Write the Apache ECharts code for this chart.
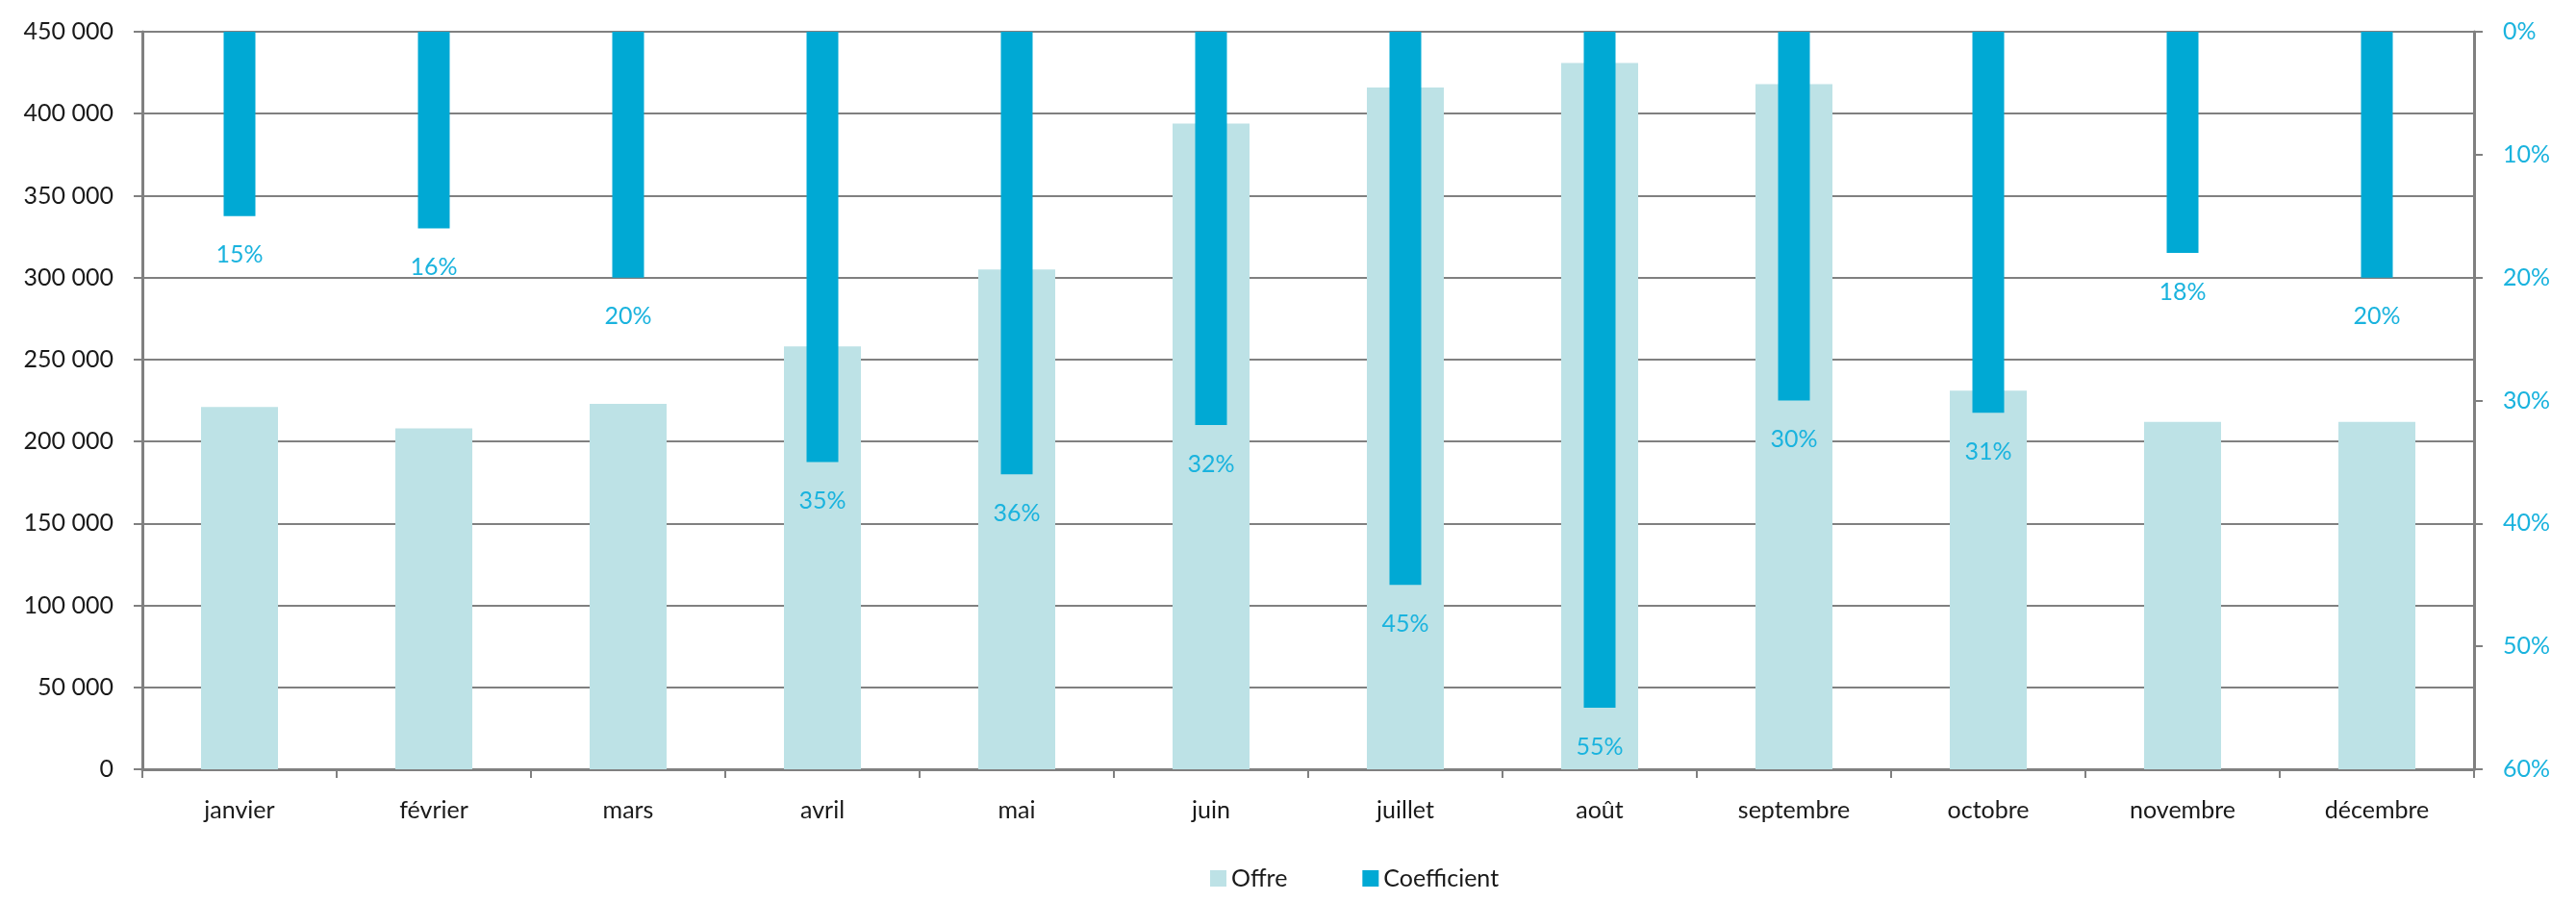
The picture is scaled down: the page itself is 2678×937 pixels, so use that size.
<!DOCTYPE html>
<html><head><meta charset="utf-8">
<script src="https://cdn.jsdelivr.net/npm/echarts@6/dist/echarts.min.js"></script>
<style>html,body{margin:0;padding:0;background:#fff}#c{width:2678px;height:937px}</style>
</head><body><div id="c"></div>
<script>
const categories = ['janvier','février','mars','avril','mai','juin','juillet','août','septembre','octobre','novembre','décembre'];
const offre = [221000, 208000, 223000, 258000, 305000, 394000, 416000, 431000, 418000, 231000, 212000, 212000];
const coefficient = [15, 16, 20, 35, 36, 32, 45, 55, 30, 31, 18, 20];
const leftTicks = [0, 50000, 100000, 150000, 200000, 250000, 300000, 350000, 400000, 450000];
const rightTicks = [0, 10, 20, 30, 40, 50, 60];

const FONT = 'Lato';
const chart = echarts.init(document.getElementById('c'));
chart.setOption({
  animation: false,
  textStyle: {fontFamily: FONT},
  grid: {left: 148, right: 106, top: 33, bottom: 137, containLabel: false},
  legend: {
    bottom: 6, left: 1253, itemWidth: 17, itemHeight: 17, itemGap: 78,
    textStyle: {fontSize: 25, color: '#1a1a1a', fontFamily: FONT},
    data: [{name: 'Offre', icon: 'rect'}, {name: 'Coefficient', icon: 'rect'}]
  },
  xAxis: [{
    type: 'category', data: categories,
    axisLine: {lineStyle: {color: '#808080', width: 3}},
    axisTick: {show: true, length: 9, lineStyle: {color: '#808080', width: 2}},
    axisLabel: {fontSize: 25, color: '#1a1a1a', margin: 30}
  }, {
    type: 'category', data: categories, show: false
  }],
  yAxis: [{
    type: 'value', min: leftTicks[0], max: leftTicks[leftTicks.length-1], interval: 50000,
    axisLine: {show: true, lineStyle: {color: '#808080', width: 3}},
    axisTick: {show: true, length: 9, lineStyle: {color: '#808080', width: 2}},
    splitLine: {lineStyle: {color: '#808080', width: 2}},
    axisLabel: {fontSize: 25, color: '#1a1a1a', margin: 30,
      formatter: v => String(v).replace(/\B(?=(\d{3})+(?!\d))/g, ' ')}
  }, {
    type: 'value', inverse: true, min: rightTicks[0], max: rightTicks[rightTicks.length-1], interval: 10,
    position: 'right',
    axisLine: {show: true, lineStyle: {color: '#808080', width: 3}},
    axisTick: {show: true, length: 9, lineStyle: {color: '#808080', width: 2}},
    splitLine: {show: false},
    axisLabel: {fontSize: 25, color: '#1ab3de', margin: 30, formatter: '{value}%'}
  }],
  series: [{
    name: 'Offre', type: 'bar', data: offre, barWidth: 80,
    itemStyle: {color: '#bde2e6'}, z: 2
  }, {
    name: 'Coefficient', type: 'bar', xAxisIndex: 1, yAxisIndex: 1, data: coefficient, barWidth: 33,
    itemStyle: {color: '#00a9d4'}, z: 3,
    label: {show: true, position: 'bottom', distance: 28, fontSize: 25, color: '#1ab3de', formatter: '{c}%'}
  }]
});
</script></body></html>
